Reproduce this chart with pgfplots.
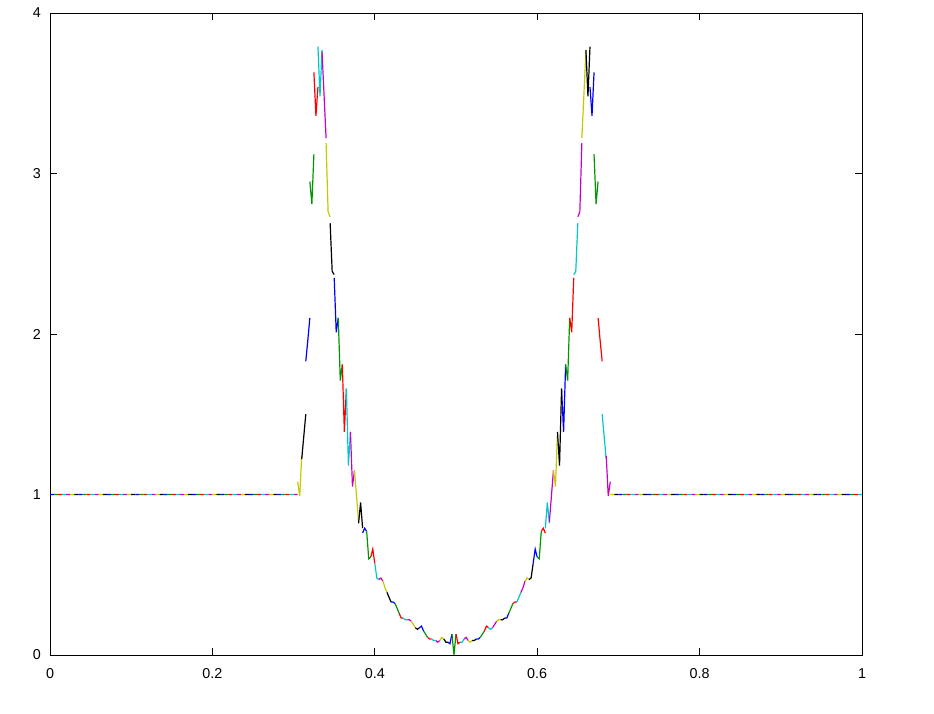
\documentclass[border=0pt]{standalone}
\usepackage{pgfplots}
\pgfplotsset{compat=1.18}
\usepackage{fontspec}
\setmainfont{Liberation Sans}
\definecolor{gR}{RGB}{255,0,0}
\definecolor{gG}{RGB}{0,150,0}
\definecolor{gB}{RGB}{0,0,255}
\definecolor{gM}{RGB}{200,0,200}
\definecolor{gC}{RGB}{0,200,200}
\definecolor{gY}{RGB}{200,200,0}
\definecolor{gK}{RGB}{0,0,0}
\begin{document}
\begin{tikzpicture}
\path[use as bounding box] (0,0) rectangle (467bp,357bp);
\begin{axis}[
  at={(25bp,29.5bp)}, anchor=south west,
  scale only axis, width=406bp, height=321bp,
  xmin=0, xmax=1, ymin=0, ymax=4,
  xtick={0,0.2,0.4,0.6,0.8,1},
  xticklabels={0,0.2,0.4,0.6,0.8,1},
  ytick={0,1,2,3,4},
  yticklabels={0,1,2,3,4},
  tick align=inside,
  major tick length=3.5bp,
  every tick/.style={black, line width=0.5bp},
  axis line style={line width=0.5bp},
  tick label style={font=\fontsize{7.2}{8}\selectfont},
  xticklabel style={yshift=-3.3bp},
  yticklabel style={xshift=-1bp},
  /pgf/number format/assume math mode=true,
  unbounded coords=jump,
  every axis plot/.append style={line width=0.6bp, mark=none},
]
% blue elements
\addplot[gB] coordinates {
(0,1)(0.005,1)(0.005,nan) (0.035,1)(0.04,1)(0.04,nan) (0.07,1)(0.075,1)(0.075,nan) (0.105,1)(0.11,1)(0.11,nan)
(0.14,1)(0.145,1)(0.145,nan) (0.175,1)(0.18,1)(0.18,nan) (0.21,1)(0.215,1)(0.215,nan) (0.245,1)(0.25,1)(0.25,nan)
(0.28,1)(0.285,1)(0.285,nan)
(0.315,1.83)(0.3175,1.96)(0.32,2.10)(0.32,nan)
(0.35,2.35)(0.3525,2.01)(0.355,2.10)(0.355,nan)
(0.385,0.76)(0.3875,0.79)(0.39,0.77)(0.39,nan)
(0.42,0.33)(0.4225,0.33)(0.425,0.32)(0.425,nan)
(0.455,0.17)(0.4575,0.18)(0.46,0.15)(0.46,nan)
(0.49,0.08)(0.4925,0.07)(0.495,0.13)(0.495,nan)
(0.525,0.10)(0.5275,0.10)(0.53,0.11)(0.53,nan)
(0.56,0.23)(0.5625,0.23)(0.565,0.26)(0.565,nan)
(0.595,0.57)(0.5975,0.66)(0.60,0.61)(0.60,nan)
(0.63,1.66)(0.6325,1.39)(0.635,1.81)(0.635,nan)
(0.665,3.54)(0.6675,3.36)(0.67,3.63)(0.67,nan)
(0.70,1)(0.705,1)(0.705,nan) (0.735,1)(0.74,1)(0.74,nan) (0.77,1)(0.775,1)(0.775,nan) (0.805,1)(0.81,1)(0.81,nan)
(0.84,1)(0.845,1)(0.845,nan) (0.875,1)(0.88,1)(0.88,nan) (0.91,1)(0.915,1)(0.915,nan) (0.945,1)(0.95,1)(0.95,nan)
(0.98,1)(0.985,1)
};
% green elements
\addplot[gG] coordinates {
(0.005,1)(0.01,1)(0.01,nan) (0.04,1)(0.045,1)(0.045,nan) (0.075,1)(0.08,1)(0.08,nan) (0.11,1)(0.115,1)(0.115,nan)
(0.145,1)(0.15,1)(0.15,nan) (0.18,1)(0.185,1)(0.185,nan) (0.215,1)(0.22,1)(0.22,nan) (0.25,1)(0.255,1)(0.255,nan)
(0.285,1)(0.29,1)(0.29,nan)
(0.32,2.95)(0.3225,2.81)(0.325,3.12)(0.325,nan)
(0.355,2.10)(0.3575,1.71)(0.36,1.81)(0.36,nan)
(0.39,0.77)(0.3925,0.60)(0.395,0.61)(0.395,nan)
(0.425,0.32)(0.4275,0.29)(0.43,0.26)(0.43,nan)
(0.46,0.15)(0.4625,0.13)(0.465,0.11)(0.465,nan)
(0.495,0.13)(0.4975,0.0)(0.5,0.13)(0.5,nan)
(0.53,0.11)(0.5325,0.13)(0.535,0.15)(0.535,nan)
(0.565,0.26)(0.5675,0.29)(0.57,0.32)(0.57,nan)
(0.60,0.61)(0.6025,0.60)(0.605,0.77)(0.605,nan)
(0.635,1.81)(0.6375,1.71)(0.64,2.10)(0.64,nan)
(0.67,3.12)(0.6725,2.81)(0.675,2.95)(0.675,nan)
(0.705,1)(0.71,1)(0.71,nan) (0.74,1)(0.745,1)(0.745,nan) (0.775,1)(0.78,1)(0.78,nan) (0.81,1)(0.815,1)(0.815,nan)
(0.845,1)(0.85,1)(0.85,nan) (0.88,1)(0.885,1)(0.885,nan) (0.915,1)(0.92,1)(0.92,nan) (0.95,1)(0.955,1)(0.955,nan)
(0.985,1)(0.99,1)
};
% red elements
\addplot[gR] coordinates {
(0.01,1)(0.015,1)(0.015,nan) (0.045,1)(0.05,1)(0.05,nan) (0.08,1)(0.085,1)(0.085,nan) (0.115,1)(0.12,1)(0.12,nan)
(0.15,1)(0.155,1)(0.155,nan) (0.185,1)(0.19,1)(0.19,nan) (0.22,1)(0.225,1)(0.225,nan) (0.255,1)(0.26,1)(0.26,nan)
(0.29,1)(0.295,1)(0.295,nan)
(0.325,3.63)(0.3275,3.36)(0.33,3.54)(0.33,nan)
(0.36,1.81)(0.3625,1.39)(0.365,1.66)(0.365,nan)
(0.395,0.61)(0.3975,0.66)(0.40,0.57)(0.40,nan)
(0.43,0.26)(0.4325,0.23)(0.435,0.23)(0.435,nan)
(0.465,0.11)(0.4675,0.10)(0.47,0.10)(0.47,nan)
(0.5,0.13)(0.5025,0.07)(0.505,0.08)(0.505,nan)
(0.535,0.15)(0.5375,0.18)(0.54,0.17)(0.54,nan)
(0.57,0.32)(0.5725,0.33)(0.575,0.33)(0.575,nan)
(0.605,0.77)(0.6075,0.79)(0.61,0.76)(0.61,nan)
(0.64,2.10)(0.6425,2.01)(0.645,2.35)(0.645,nan)
(0.675,2.10)(0.6775,1.96)(0.68,1.83)(0.68,nan)
(0.71,1)(0.715,1)(0.715,nan) (0.745,1)(0.75,1)(0.75,nan) (0.78,1)(0.785,1)(0.785,nan) (0.815,1)(0.82,1)(0.82,nan)
(0.85,1)(0.855,1)(0.855,nan) (0.885,1)(0.89,1)(0.89,nan) (0.92,1)(0.925,1)(0.925,nan) (0.955,1)(0.96,1)(0.96,nan)
(0.99,1)(0.995,1)
};
% cyan elements
\addplot[gC] coordinates {
(0.015,1)(0.02,1)(0.02,nan) (0.05,1)(0.055,1)(0.055,nan) (0.085,1)(0.09,1)(0.09,nan) (0.12,1)(0.125,1)(0.125,nan)
(0.155,1)(0.16,1)(0.16,nan) (0.19,1)(0.195,1)(0.195,nan) (0.225,1)(0.23,1)(0.23,nan) (0.26,1)(0.265,1)(0.265,nan)
(0.295,1)(0.30,1)(0.30,nan)
(0.33,3.79)(0.3325,3.48)(0.335,3.77)(0.335,nan)
(0.365,1.66)(0.3675,1.18)(0.37,1.39)(0.37,nan)
(0.40,0.57)(0.4025,0.48)(0.405,0.47)(0.405,nan)
(0.435,0.23)(0.4375,0.22)(0.44,0.22)(0.44,nan)
(0.47,0.10)(0.4725,0.09)(0.475,0.09)(0.475,nan)
(0.505,0.08)(0.5075,0.08)(0.51,0.10)(0.51,nan)
(0.54,0.17)(0.5425,0.16)(0.545,0.17)(0.545,nan)
(0.575,0.33)(0.5775,0.36)(0.58,0.39)(0.58,nan)
(0.61,0.79)(0.6125,0.95)(0.615,0.82)(0.615,nan)
(0.645,2.37)(0.6475,2.39)(0.65,2.69)(0.65,nan)
(0.68,1.50)(0.6825,1.36)(0.685,1.22)(0.685,nan)
(0.715,1)(0.72,1)(0.72,nan) (0.75,1)(0.755,1)(0.755,nan) (0.785,1)(0.79,1)(0.79,nan) (0.82,1)(0.825,1)(0.825,nan)
(0.855,1)(0.86,1)(0.86,nan) (0.89,1)(0.895,1)(0.895,nan) (0.925,1)(0.93,1)(0.93,nan) (0.96,1)(0.965,1)(0.965,nan)
(0.995,1)(1,1)
};
% magenta elements
\addplot[gM] coordinates {
(0.02,1)(0.025,1)(0.025,nan) (0.055,1)(0.06,1)(0.06,nan) (0.09,1)(0.095,1)(0.095,nan) (0.125,1)(0.13,1)(0.13,nan)
(0.16,1)(0.165,1)(0.165,nan) (0.195,1)(0.2,1)(0.2,nan) (0.23,1)(0.235,1)(0.235,nan) (0.265,1)(0.27,1)(0.27,nan)
(0.30,1)(0.305,1)(0.305,nan)
(0.335,3.76)(0.3375,3.49)(0.34,3.22)(0.34,nan)
(0.37,1.39)(0.3725,1.05)(0.375,1.15)(0.375,nan)
(0.405,0.47)(0.4075,0.48)(0.41,0.46)(0.41,nan)
(0.44,0.22)(0.4425,0.22)(0.445,0.21)(0.445,nan)
(0.475,0.09)(0.4775,0.08)(0.48,0.09)(0.48,nan)
(0.51,0.10)(0.5125,0.11)(0.515,0.09)(0.515,nan)
(0.545,0.17)(0.5475,0.19)(0.55,0.21)(0.55,nan)
(0.58,0.39)(0.5825,0.42)(0.585,0.46)(0.585,nan)
(0.615,0.83)(0.6175,0.99)(0.62,1.15)(0.62,nan)
(0.65,2.73)(0.6525,2.76)(0.655,3.19)(0.655,nan)
(0.685,1.24)(0.6875,0.99)(0.69,1.08)(0.69,nan)
(0.72,1)(0.725,1)(0.725,nan) (0.755,1)(0.76,1)(0.76,nan) (0.79,1)(0.795,1)(0.795,nan) (0.825,1)(0.83,1)(0.83,nan)
(0.86,1)(0.865,1)(0.865,nan) (0.895,1)(0.9,1)(0.9,nan) (0.93,1)(0.935,1)(0.935,nan) (0.965,1)(0.97,1)
};
% yellow elements
\addplot[gY] coordinates {
(0.025,1)(0.03,1)(0.03,nan) (0.06,1)(0.065,1)(0.065,nan) (0.095,1)(0.1,1)(0.1,nan) (0.13,1)(0.135,1)(0.135,nan)
(0.165,1)(0.17,1)(0.17,nan) (0.2,1)(0.205,1)(0.205,nan) (0.235,1)(0.24,1)(0.24,nan) (0.27,1)(0.275,1)(0.275,nan)
(0.305,1.08)(0.3075,0.99)(0.31,1.24)(0.31,nan)
(0.34,3.19)(0.3425,2.76)(0.345,2.73)(0.345,nan)
(0.375,1.15)(0.3775,0.99)(0.38,0.83)(0.38,nan)
(0.41,0.46)(0.4125,0.42)(0.415,0.39)(0.415,nan)
(0.445,0.21)(0.4475,0.19)(0.45,0.17)(0.45,nan)
(0.48,0.09)(0.4825,0.11)(0.485,0.10)(0.485,nan)
(0.515,0.09)(0.5175,0.08)(0.52,0.09)(0.52,nan)
(0.55,0.21)(0.5525,0.22)(0.555,0.22)(0.555,nan)
(0.585,0.46)(0.5875,0.48)(0.59,0.47)(0.59,nan)
(0.62,1.15)(0.6225,1.05)(0.625,1.39)(0.625,nan)
(0.655,3.22)(0.6575,3.49)(0.66,3.76)(0.66,nan)
(0.69,1)(0.695,1)(0.695,nan)
(0.725,1)(0.73,1)(0.73,nan) (0.76,1)(0.765,1)(0.765,nan) (0.795,1)(0.8,1)(0.8,nan) (0.83,1)(0.835,1)(0.835,nan)
(0.865,1)(0.87,1)(0.87,nan) (0.9,1)(0.905,1)(0.905,nan) (0.935,1)(0.94,1)(0.94,nan) (0.97,1)(0.975,1)
};
% black elements
\addplot[gK] coordinates {
(0.03,1)(0.035,1)(0.035,nan) (0.065,1)(0.07,1)(0.07,nan) (0.1,1)(0.105,1)(0.105,nan) (0.135,1)(0.14,1)(0.14,nan)
(0.17,1)(0.175,1)(0.175,nan) (0.205,1)(0.21,1)(0.21,nan) (0.24,1)(0.245,1)(0.245,nan) (0.275,1)(0.28,1)(0.28,nan)
(0.31,1.22)(0.3125,1.36)(0.315,1.50)(0.315,nan)
(0.345,2.69)(0.3475,2.39)(0.35,2.37)(0.35,nan)
(0.38,0.82)(0.3825,0.95)(0.385,0.79)(0.385,nan)
(0.415,0.39)(0.4175,0.36)(0.42,0.33)(0.42,nan)
(0.45,0.17)(0.4525,0.16)(0.455,0.17)(0.455,nan)
(0.485,0.10)(0.4875,0.08)(0.49,0.08)(0.49,nan)
(0.52,0.09)(0.5225,0.09)(0.525,0.10)(0.525,nan)
(0.555,0.22)(0.5575,0.22)(0.56,0.23)(0.56,nan)
(0.59,0.47)(0.5925,0.48)(0.595,0.57)(0.595,nan)
(0.625,1.39)(0.6275,1.18)(0.63,1.66)(0.63,nan)
(0.66,3.77)(0.6625,3.48)(0.665,3.79)(0.665,nan)
(0.695,1)(0.70,1)(0.70,nan) (0.73,1)(0.735,1)(0.735,nan) (0.765,1)(0.77,1)(0.77,nan) (0.8,1)(0.805,1)(0.805,nan)
(0.835,1)(0.84,1)(0.84,nan) (0.87,1)(0.875,1)(0.875,nan) (0.905,1)(0.91,1)(0.91,nan) (0.94,1)(0.945,1)(0.945,nan)
(0.975,1)(0.98,1)
};
\end{axis}
\end{tikzpicture}
\end{document}
